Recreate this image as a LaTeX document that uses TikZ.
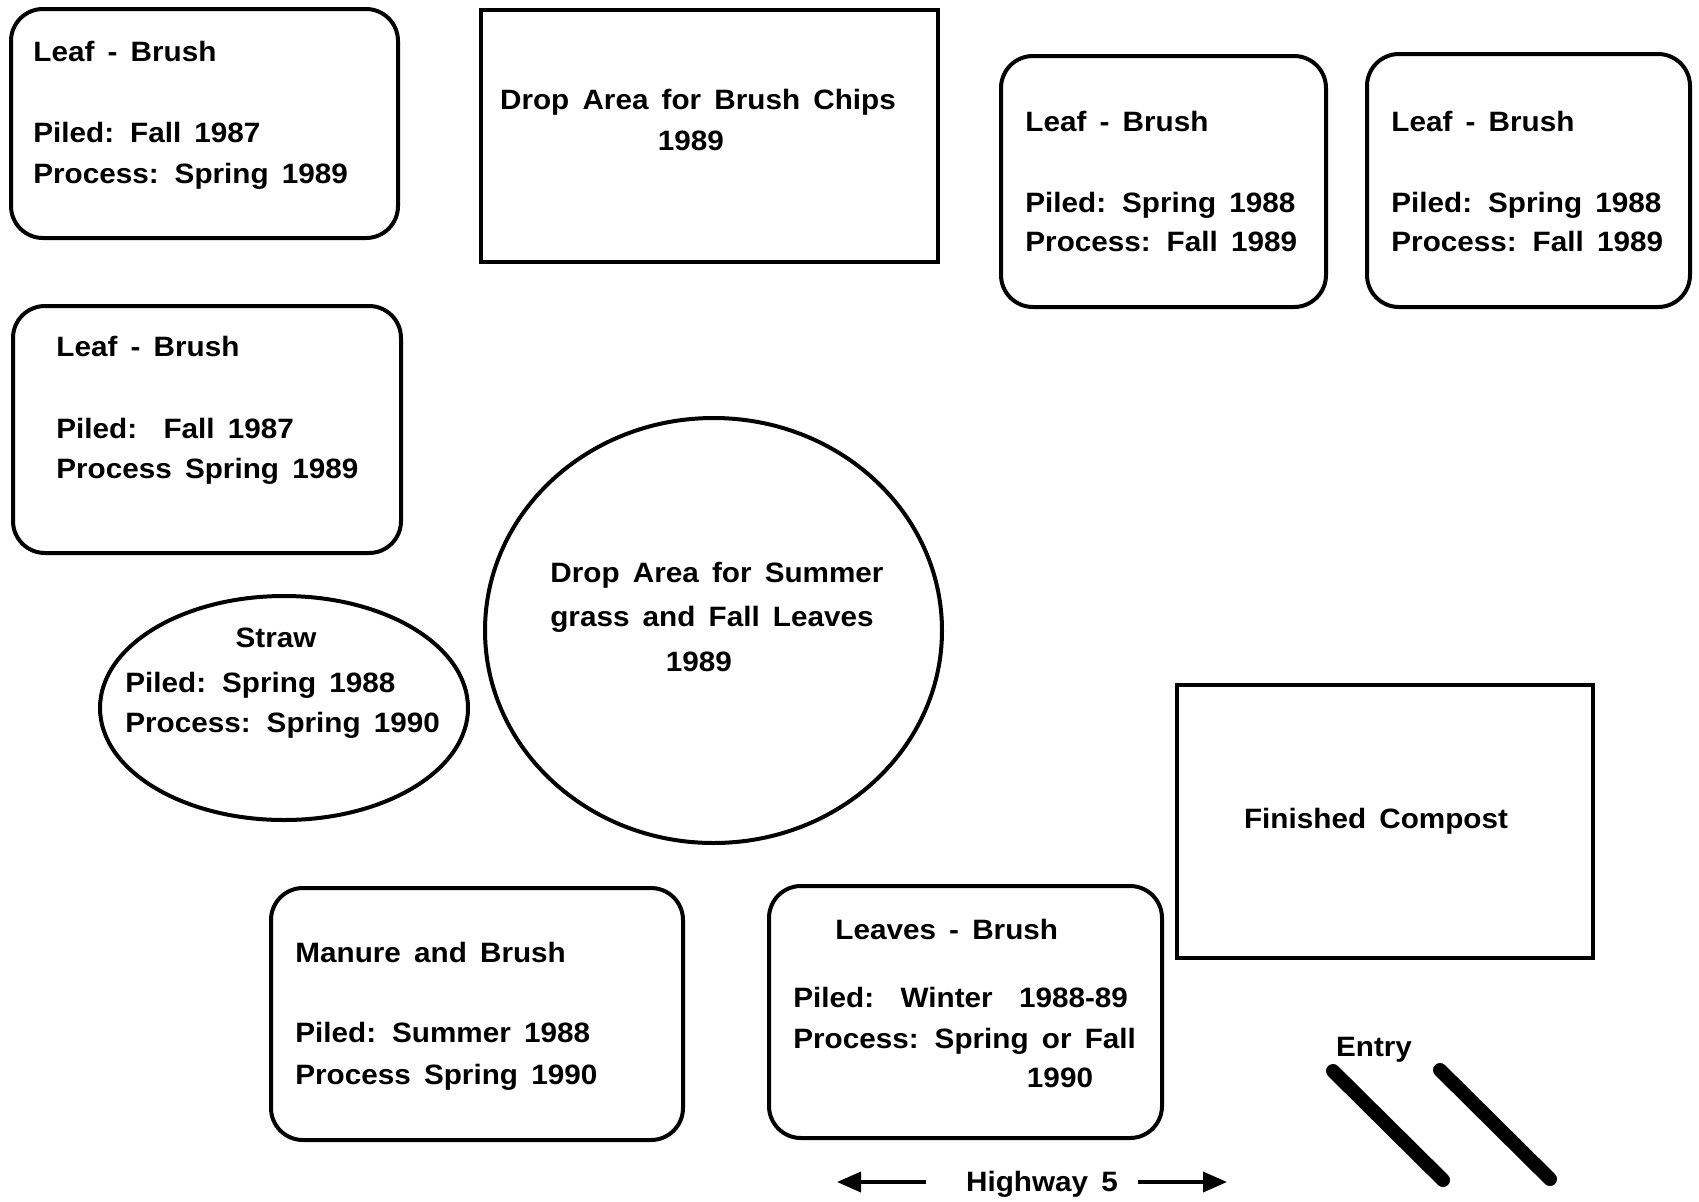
\documentclass[tikz,border=0pt]{standalone}
\usepackage{fontspec}
\newfontfamily\labfont{Liberation Sans}[FakeStretch=1.06,WordSpace=1.6]
\usetikzlibrary{arrows.meta,shapes.geometric}
\begin{document}
\begin{tikzpicture}[x=0.5pt,y=-0.5pt,
  pile/.style={draw, line width=2pt, rounded corners=16pt, inner sep=0pt},
  area/.style={draw, line width=2pt, inner sep=0pt},
  oval/.style={ellipse, draw, line width=2pt, inner sep=0pt},
  lbl/.style={inner sep=0pt, anchor=base west, font=\labfont\bfseries\fontsize{14}{17}\selectfont},
  clbl/.style={lbl, anchor=base},
  road/.style={line width=1.8pt, -{Triangle[length=12pt,width=10pt]}},
  entryline/.style={line width=7pt, line cap=round}]
\useasboundingbox (0,0) rectangle (1699,1201);
\fill[white] (0,0) rectangle (1699,1201);

% Box 1
\node[pile, minimum width=193.5pt, minimum height=114.5pt] (p1) at (204.5,123.5) {};
\node[lbl] (p1a) at (33,61) {Leaf - Brush};
\node[lbl] (p1b) at (33,142) {Piled: Fall 1987};
\node[lbl] (p1c) at (33,183) {Process: Spring 1989};

% Drop area brush chips
\node[area, minimum width=228.5pt, minimum height=126pt] (chips) at (709.5,136) {};
\node[clbl] (chipsa) at (698,109) {Drop Area for Brush Chips};
\node[clbl] (chipsb) at (691,150) {1989};

% Box 3
\node[pile, minimum width=162.5pt, minimum height=125.5pt] (p3) at (1163.5,181.5) {};
\node[lbl] (p3a) at (1025,131) {Leaf - Brush};
\node[lbl] (p3b) at (1025,212) {Piled: Spring 1988};
\node[lbl] (p3c) at (1025,251) {Process: Fall 1989};

% Box 4
\node[pile, minimum width=161.5pt, minimum height=126.5pt] (p4) at (1528.5,180.5) {};
\node[lbl] (p4a) at (1391,131) {Leaf - Brush};
\node[lbl] (p4b) at (1391,212) {Piled: Spring 1988};
\node[lbl] (p4c) at (1391,251) {Process: Fall 1989};

% Box 5
\node[pile, minimum width=194pt, minimum height=123.5pt] (p5) at (207,429.5) {};
\node[lbl] (p5a) at (56,356) {Leaf - Brush};
\node[lbl] (p5b) at (56,438) {Piled:\ \ Fall 1987};
\node[lbl] (p5c) at (56,478) {Process Spring 1989};

% Straw
\node[oval, minimum width=184pt, minimum height=112pt] (straw) at (284,708) {};
\node[clbl] (strawa) at (276,647) {Straw};
\node[lbl] (strawb) at (125,692) {Piled: Spring 1988};
\node[lbl] (strawc) at (125,732) {Process: Spring 1990};

% Drop area summer grass
\node[oval, minimum width=228.5pt, minimum height=212.5pt] (grass) at (713.5,630.5) {};
\node[clbl] (grassa) at (717,582) {Drop Area for Summer};
\node[clbl] (grassb) at (712,626) {grass and Fall Leaves};
\node[clbl] (grassc) at (699,671) {1989};

% Finished compost
\node[area, minimum width=208pt, minimum height=136.5pt] (fin) at (1385,821.5) {};
\node[clbl] (fina) at (1376,828) {Finished Compost};

% Manure and brush
\node[pile, minimum width=206pt, minimum height=126pt] (man) at (477,1014) {};
\node[lbl] (mana) at (295,962) {Manure and Brush};
\node[lbl] (manb) at (295,1042) {Piled: Summer 1988};
\node[lbl] (manc) at (295,1084) {Process Spring 1990};

% Leaves - brush
\node[pile, minimum width=196.5pt, minimum height=126pt] (lvs) at (965.5,1012) {};
\node[lbl] (lvsa) at (835,939) {Leaves - Brush};
\node[lbl] (lvsb) at (793,1007) {Piled:\ \ Winter\ \ 1988-89};
\node[lbl] (lvsc) at (793,1048) {Process: Spring or Fall};
\node[clbl] (lvsd) at (1060,1087) {1990};

% Entry
\node[clbl] (entry) at (1374,1056) {Entry};
\coordinate (e1a) at (1333,1071);
\coordinate (e1b) at (1443,1180);
\coordinate (e2a) at (1440,1070);
\coordinate (e2b) at (1550,1179);
\draw[entryline] (e1a) -- (e1b);
\draw[entryline] (e2a) -- (e2b);

% Highway
\node[clbl] (hwy) at (1042,1191) {Highway 5};
\coordinate (hl1) at (926,1182);
\coordinate (hl2) at (837,1182);
\coordinate (hr1) at (1138,1182);
\coordinate (hr2) at (1227,1182);
\draw[road] (hl1) -- (hl2);
\draw[road] (hr1) -- (hr2);
\end{tikzpicture}
\end{document}
